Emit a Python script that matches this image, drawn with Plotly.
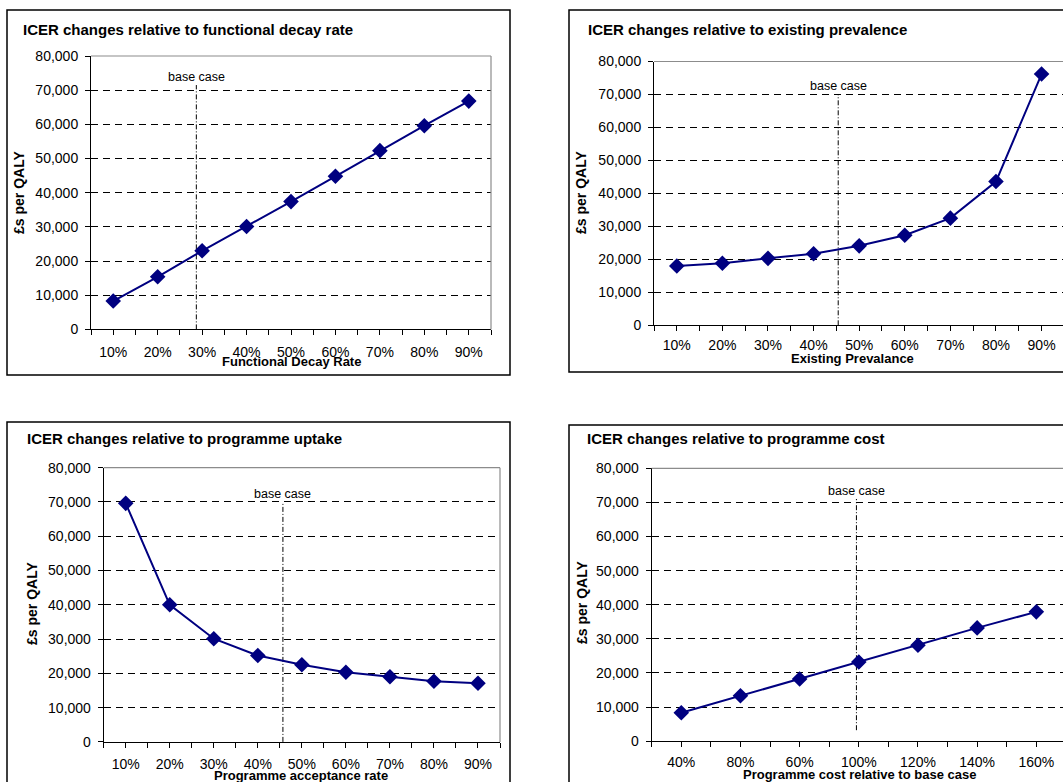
import plotly.graph_objects as go

W, H = 1063, 782

# ---- data -------------------------------------------------------------
decay_labels = ["10%", "20%", "30%", "40%", "50%", "60%", "70%", "80%", "90%"]
decay_icer = [8300, 15400, 23000, 30100, 37400, 44800, 52300, 59600, 66800]

prevalence_labels = ["10%", "20%", "30%", "40%", "50%", "60%", "70%", "80%", "90%"]
prevalence_icer = [18000, 18800, 20300, 21700, 24100, 27300, 32500, 43600, 76200]

uptake_labels = ["10%", "20%", "30%", "40%", "50%", "60%", "70%", "80%", "90%"]
uptake_icer = [69600, 40000, 30100, 25200, 22500, 20300, 19000, 17700, 17100]

cost_labels = ["40%", "80%", "60%", "100%", "120%", "140%", "160%"]
cost_icer = [8300, 13300, 18200, 23200, 28100, 33200, 37900]

# base-case marker position (category index) and vertical extent
base_case_x = [1.87, 3.54, 3.57, 2.96]
base_case_y0 = [0, 0, 0, 3200]
base_case_y1 = [71500, 70000, 70000, 71000]

titles = [
    "ICER changes relative to functional decay rate",
    "ICER changes relative to existing prevalence",
    "ICER changes relative to programme uptake",
    "ICER changes relative to programme cost",
]
x_titles = [
    "Functional Decay Rate",
    "Existing Prevalance",
    "Programme acceptance rate",
    "Programme cost relative to base case",
]
y_title = "£s per QALY"

# ---- layout geometry (pixels) ----------------------------------------
# plot areas: (left, right, top, bottom, x range end)
areas = [
    (91, 491, 56, 329.4, 8.5),
    (654, 1063, 61.5, 325.3, 8.47),
    (103.7, 500, 467.7, 741.9, 8.5),
    (651.7, 1063, 468.3, 741.1, 6.451),
]
# chart frames: (x0, y0, x1, y1)
frames = [(7, 10, 510, 375), (569, 10, 1075, 372), (7, 422, 510, 795), (569, 425, 1075, 795)]
title_pos = [(21, 29), (586, 29), (25, 438), (585, 439)]
ytitle_pos = [(19, 193), (581, 193), (32, 604), (582, 603)]
xtitle_pos = [(291, 361), (852, 359), (301, 775), (859, 774)]
tick_standoff = [5, 2, 4, 3]
draw_right_border = [True, False, True, False]

FONT = "Liberation Sans, Arial, sans-serif"
NAVY = "#000080"


def px(x):
    return x / W


def py(y):
    return 1 - y / H


series = [
    (decay_labels, decay_icer),
    (prevalence_labels, prevalence_icer),
    (uptake_labels, uptake_icer),
    (cost_labels, cost_icer),
]

fig = go.Figure()
layout = dict(
    width=W,
    height=H,
    margin=dict(l=0, r=0, t=0, b=0, autoexpand=False),
    paper_bgcolor="white",
    plot_bgcolor="white",
    showlegend=False,
    font=dict(family=FONT, color="black"),
)
shapes = []
annotations = []

for i, (labels, vals) in enumerate(series):
    n = i + 1
    xa = "x" if n == 1 else f"x{n}"
    ya = "y" if n == 1 else f"y{n}"
    l, r, t, b, xend = areas[i]

    fig.add_trace(
        go.Scatter(
            x=list(range(len(labels))),
            y=vals,
            mode="lines+markers",
            line=dict(color=NAVY, width=2),
            marker=dict(symbol="diamond", size=12, color=NAVY),
            xaxis=xa,
            yaxis=ya,
            hoverinfo="skip",
        )
    )

    layout["xaxis" if n == 1 else f"xaxis{n}"] = dict(
        domain=[px(l), px(r)],
        anchor=ya,
        range=[-0.5, xend],
        tickmode="array",
        tickvals=list(range(len(labels))),
        ticktext=labels,
        ticks="outside",
        ticklen=5,
        tickcolor="black",
        ticklabelstandoff=tick_standoff[i],
        minor=dict(dtick=0.5, tick0=-0.5, ticks="outside", ticklen=5, tickcolor="black", showgrid=False),
        showgrid=False,
        zeroline=False,
        showline=True,
        linecolor="black",
        linewidth=1,
        automargin=False,
        tickfont=dict(size=14, family=FONT, color="black"),
        fixedrange=True,
    )
    layout["yaxis" if n == 1 else f"yaxis{n}"] = dict(
        domain=[py(b), py(t)],
        anchor=xa,
        range=[0, 80000],
        tickmode="linear",
        tick0=0,
        dtick=10000,
        tickformat=",d",
        ticks="outside",
        ticklen=5,
        tickcolor="black",
        ticklabelstandoff=4,
        showgrid=True,
        gridcolor="black",
        gridwidth=1,
        griddash="7px,5px",
        zeroline=False,
        showline=True,
        linecolor="black",
        linewidth=1,
        automargin=False,
        tickfont=dict(size=14, family=FONT, color="black"),
        fixedrange=True,
    )

    # grey plot-area border (top, and right where visible)
    shapes.append(dict(type="line", xref=f"{xa} domain", yref=f"{ya} domain",
                       x0=0, x1=1, y0=1, y1=1, line=dict(color="#8c8c8c", width=1.2), layer="above"))
    if draw_right_border[i]:
        shapes.append(dict(type="line", xref=f"{xa} domain", yref=f"{ya} domain",
                           x0=1, x1=1, y0=0, y1=1, line=dict(color="#8c8c8c", width=1.2), layer="above"))

    # base case reference line
    shapes.append(dict(type="line", xref=xa, yref=ya,
                       x0=base_case_x[i], x1=base_case_x[i],
                       y0=base_case_y0[i], y1=base_case_y1[i],
                       line=dict(color="black", width=1, dash="5px,2px,1px,2px"), layer="below"))
    annotations.append(dict(xref=xa, yref=ya, x=base_case_x[i], y=base_case_y1[i],
                            text="base case", showarrow=False, xanchor="center", yanchor="bottom",
                            yshift=-1, font=dict(size=12.5, family=FONT, color="black")))

    # chart frame
    fx0, fy0, fx1, fy1 = frames[i]
    shapes.append(dict(type="rect", xref="paper", yref="paper",
                       x0=px(fx0), x1=px(fx1), y0=py(fy1), y1=py(fy0),
                       line=dict(color="black", width=1.5), fillcolor="rgba(0,0,0,0)", layer="above"))

    # chart title
    tx, ty = title_pos[i]
    annotations.append(dict(xref="paper", yref="paper", x=px(tx), y=py(ty), text=f"<b>{titles[i]}</b>",
                            showarrow=False, xanchor="left", yanchor="middle",
                            font=dict(size=15, family=FONT, color="black")))
    # y axis title
    yx, yy = ytitle_pos[i]
    annotations.append(dict(xref="paper", yref="paper", x=px(yx), y=py(yy), text=f"<b>{y_title}</b>",
                            showarrow=False, textangle=-90, xanchor="center", yanchor="middle",
                            font=dict(size=14, family=FONT, color="black")))
    # x axis title
    xx, xy = xtitle_pos[i]
    annotations.append(dict(xref="paper", yref="paper", x=px(xx), y=py(xy), text=f"<b>{x_titles[i]}</b>",
                            showarrow=False, xanchor="center", yanchor="middle",
                            font=dict(size=13, family=FONT, color="black")))

layout["shapes"] = shapes
layout["annotations"] = annotations
fig.update_layout(**layout)

fig.write_html("out.html", config={"displayModeBar": False})
